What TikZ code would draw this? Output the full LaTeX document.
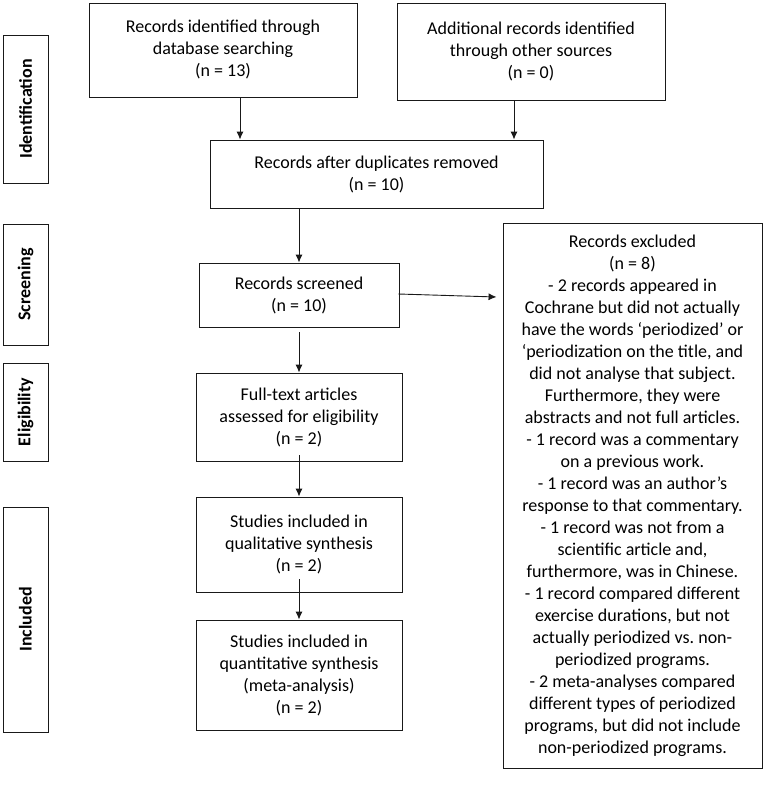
\documentclass[tikz,border=0pt]{standalone}
\usepackage{fontspec}
\setmainfont{Carlito}
\usetikzlibrary{arrows.meta,calc}
\frenchspacing
\begin{document}
\begin{tikzpicture}[x=1pt,y=-1pt,
  box/.style={draw=black!90, line width=0.9pt, align=center, inner sep=0pt, font=\fontsize{18}{22}\selectfont},
  side/.style={draw=black!90, line width=0.9pt, inner sep=0pt, rotate=90, font=\fontsize{18}{22}\selectfont\bfseries},
  arr/.style={-{Latex[length=8pt,width=7pt]}, line width=0.9pt, draw=black!90}]
\useasboundingbox (0,0) rectangle (765,789);

% side labels
\node[side, minimum width=148pt, minimum height=45pt] (sid) at (25.5,109) {Identification};
\node[side, minimum width=121pt, minimum height=45pt] (ssc) at (25.5,284.5) {Screening};
\node[side, minimum width=98pt, minimum height=45pt] (sel) at (25.5,412) {Eligibility};
\node[side, minimum width=225pt, minimum height=45pt] (sin) at (25.5,619.5) {Included};

% main boxes
\node[box, minimum width=268pt, minimum height=94pt] (b1) at (223,50)
  {Records identified through\\database searching\\(n = 13)};
\node[box, minimum width=268pt, minimum height=97pt] (b2) at (531,51.5)
  {Additional records identified\\through other sources\\(n = 0)};
\node[box, minimum width=333pt, minimum height=68pt] (dup) at (376.5,174)
  {Records after duplicates removed\\(n = 10)};
\node[box, minimum width=200pt, minimum height=64pt] (scr) at (299,295)
  {Records screened\\(n = 10)};
\node[box, minimum width=259pt, minimum height=545pt] (exc) at (632.5,495.5)
  {Records excluded\\(n = 8)\\- 2 records appeared in\\Cochrane but did not actually\\have the words ‘periodized’ or\\‘periodization on the title, and\\did not analyse that subject.\\Furthermore, they were\\abstracts and not full articles.\\- 1 record was a commentary\\on a previous work.\\- 1 record was an author’s\\response to that commentary.\\- 1 record was not from a\\scientific article and,\\furthermore, was in Chinese.\\- 1 record compared different\\exercise durations, but not\\actually periodized vs. non-\\periodized programs.\\- 2 meta-analyses compared\\different types of periodized\\programs, but did not include\\non-periodized programs.};
\node[box, minimum width=206pt, minimum height=88pt] (elig) at (299,417)
  {Full-text articles\\assessed for eligibility\\(n = 2)};
\node[box, minimum width=206pt, minimum height=95pt] (qual) at (299,544.5)
  {Studies included in\\qualitative synthesis\\(n = 2)};
\node[box, minimum width=206pt, minimum height=110pt] (quant) at (299,675)
  {Studies included in\\quantitative synthesis\\(meta-analysis)\\(n = 2)};

% connectors
\coordinate (xa) at (240,0);
\coordinate (xb) at (514,0);
\draw[arr] (b1.south -| xa) -- (dup.north -| xa);
\draw[arr] (b2.south -| xb) -- (dup.north -| xb);
\draw[arr] (dup.south -| scr.north) -- (scr.north);
\draw[arr] ([xshift=-1pt,yshift=1pt]scr.east) -- ($(exc.west |- scr.east)+(-6,2)$);
\draw[arr] ([yshift=-5pt]scr.south) -- (elig.north);
\draw[arr] ([yshift=6pt]elig.south) -- (qual.north);
\draw[arr] ([yshift=13pt]qual.south) -- (quant.north);
\end{tikzpicture}
\end{document}
